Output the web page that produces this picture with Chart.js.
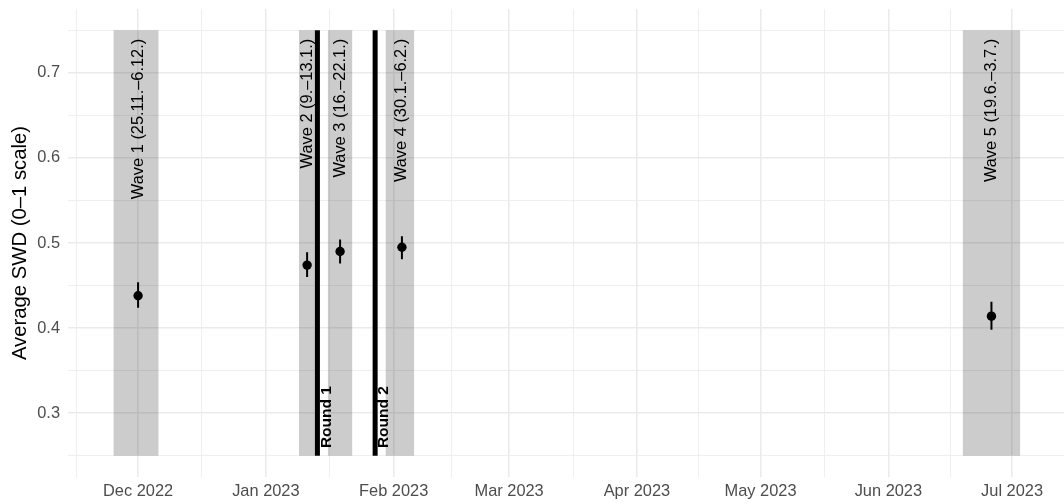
<!DOCTYPE html>
<html>
<head>
<meta charset="utf-8">
<script src="https://cdn.jsdelivr.net/npm/chart.js@4/dist/chart.umd.min.js"></script>
<style>
  html, body { margin: 0; padding: 0; background: #fff; }
</style>
</head>
<body>
<canvas id="myChart" width="1064" height="504"></canvas>
<script>
// survey waves
const waveLabels = ["Wave 1 (25.11.\u20136.12.)", "Wave 2 (9.\u201313.1.)", "Wave 3 (16.\u201322.1.)", "Wave 4 (30.1.\u20136.2.)", "Wave 5 (19.6.\u20133.7.)"];
const waveStart = ["2022-11-25", "2023-01-09", "2023-01-16", "2023-01-30", "2023-06-19"];
const waveEnd = ["2022-12-06", "2023-01-13", "2023-01-22", "2023-02-06", "2023-07-03"];
const waveDate = ["2022-12-01", "2023-01-11", "2023-01-19", "2023-02-03", "2023-06-26"];
const waveMean = [0.438, 0.474, 0.490, 0.495, 0.414];
const waveLow = [0.424, 0.460, 0.476, 0.481, 0.398];
const waveHigh = [0.454, 0.489, 0.504, 0.508, 0.431];

// rounds
const roundLabels = ["Round 1", "Round 2"];
const roundDates = ["2023-01-13T12:00", "2023-01-27T12:00"];

// axis ticks
const monthTicks = ["2022-12-01", "2023-01-01", "2023-02-01", "2023-03-01", "2023-04-01", "2023-05-01", "2023-06-01", "2023-07-01"];
const monthLabels = ["Dec 2022", "Jan 2023", "Feb 2023", "Mar 2023", "Apr 2023", "May 2023", "Jun 2023", "Jul 2023"];
const yTicks = [0.3, 0.4, 0.5, 0.6, 0.7];

// days since 1 Dec 2022
const day = s => (Date.parse(s.length > 10 ? s + "Z" : s + "T00:00Z") - Date.parse("2022-12-01T00:00Z")) / 864e5;

const FONT = '"Liberation Sans", Arial, Helvetica, sans-serif';

// grey wave boxes, filled down to 0.25
const boxSets = waveStart.map((s, i) => ({
  data: [{ x: day(s), y: 0.75 }, { x: day(waveEnd[i]), y: 0.75 }],
  fill: { value: 0.25 },
  backgroundColor: "rgba(0,0,0,0.2)",
  borderWidth: 0,
  pointRadius: 0,
}));

// error bars, one segment per wave
const barData = [];
waveDate.forEach((d, i) => {
  barData.push({ x: day(d), y: waveLow[i] }, { x: day(d), y: waveHigh[i] }, { x: day(d), y: null });
});

// round lines
const roundData = [];
roundDates.forEach(d => {
  roundData.push({ x: day(d), y: 0.25 }, { x: day(d), y: 0.75 }, { x: day(d), y: null });
});

const data = {
  datasets: [
    {
      data: waveDate.map((d, i) => ({ x: day(d), y: waveMean[i] })),
      showLine: false,
      pointRadius: 4.7,
      pointBackgroundColor: "#000",
      pointBorderWidth: 0,
    },
    {
      data: barData,
      borderColor: "#000",
      borderWidth: 2,
      pointRadius: 0,
      spanGaps: false,
    },
    {
      data: roundData,
      borderColor: "#000",
      borderWidth: 5,
      borderCapStyle: "butt",
      pointRadius: 0,
      spanGaps: false,
    },
    ...boxSets,
  ],
};

// text on top of the marks
const annotate = {
  id: "annotate",
  afterDatasetsDraw(chart) {
    const { ctx, scales: { x, y } } = chart;
    ctx.save();
    ctx.fillStyle = "#000";
    ctx.textBaseline = "middle";
    waveLabels.forEach((t, i) => {
      ctx.save();
      ctx.translate(x.getPixelForValue(day(waveDate[i])), y.getPixelForValue(0.74));
      ctx.rotate(-Math.PI / 2);
      ctx.textAlign = "right";
      ctx.font = "16.4px " + FONT;
      ctx.fillText(t, 0, 0);
      ctx.restore();
    });
    roundLabels.forEach((t, i) => {
      ctx.save();
      ctx.translate(x.getPixelForValue(day(roundDates[i]) + 2.2), y.getPixelForValue(0.259));
      ctx.rotate(-Math.PI / 2);
      ctx.textAlign = "left";
      ctx.font = "bold 15.5px " + FONT;
      ctx.fillText(t, 0, 0);
      ctx.restore();
    });
    ctx.restore();
  },
};

const config = {
  type: "line",
  data: data,
  plugins: [annotate],
  options: {
    responsive: false,
    animation: false,
    devicePixelRatio: 1,
    layout: { autoPadding: false, padding: { top: 9, right: 0, left: 0, bottom: 0 } },
    plugins: {
      legend: { display: false },
      tooltip: { enabled: false },
    },
    scales: {
      x: {
        type: "linear",
        min: -17,
        max: 224.6,
        afterBuildTicks: scale => {
          const majors = monthTicks.map(day);
          const minors = [day("2022-11-01")].concat(majors).slice(0, -1)
            .map((v, i, arr) => (v + (i + 1 < arr.length ? arr[i + 1] : majors[majors.length - 1])) / 2);
          const ticks = majors.map(v => ({ value: v, major: true }))
            .concat(minors.map(v => ({ value: v, major: false })))
            .filter(t => t.value >= scale.min && t.value <= scale.max)
            .sort((a, b) => a.value - b.value);
          scale.ticks = ticks;
        },
        afterFit: scale => {
          scale.height = 27;
          scale.paddingLeft = 0;
          scale.paddingRight = 0;
        },
        grid: {
          color: "#EBEBEB",
          lineWidth: ctx => (ctx.tick && ctx.tick.major ? 1.6 : 0.8),
          drawTicks: false,
        },
        border: { display: false },
        ticks: {
          autoSkip: false,
          maxRotation: 0,
          padding: 5,
          color: "#4D4D4D",
          font: { family: FONT, size: 16.4 },
          callback: function (value, index, ticks) {
            const i = monthTicks.map(day).indexOf(value);
            return i >= 0 ? monthLabels[i] : "";
          },
        },
      },
      y: {
        type: "linear",
        min: 0.225,
        max: 0.775,
        afterBuildTicks: scale => {
          const ticks = [];
          yTicks.forEach(v => ticks.push({ value: v, major: true }));
          [0.25, 0.35, 0.45, 0.55, 0.65, 0.75].forEach(v => ticks.push({ value: v, major: false }));
          scale.ticks = ticks.sort((a, b) => a.value - b.value);
        },
        afterFit: scale => {
          scale.width = 68;
          scale.paddingTop = 0;
          scale.paddingBottom = 0;
        },
        grid: {
          color: "#EBEBEB",
          lineWidth: ctx => (ctx.tick && ctx.tick.major ? 1.6 : 0.8),
          drawTicks: false,
        },
        border: { display: false },
        ticks: {
          padding: 8,
          color: "#4D4D4D",
          font: { family: FONT, size: 16.4 },
          callback: value => (yTicks.some(t => Math.abs(t - value) < 1e-9) ? value.toFixed(1) : ""),
        },
        title: {
          display: true,
          text: "Average SWD (0\u20131 scale)",
          color: "#000",
          font: { family: FONT, size: 20.3 },
          padding: { top: 8, bottom: 0 },
        },
      },
    },
  },
};

const myChart = new Chart(document.getElementById("myChart"), config);
</script>
</body>
</html>
